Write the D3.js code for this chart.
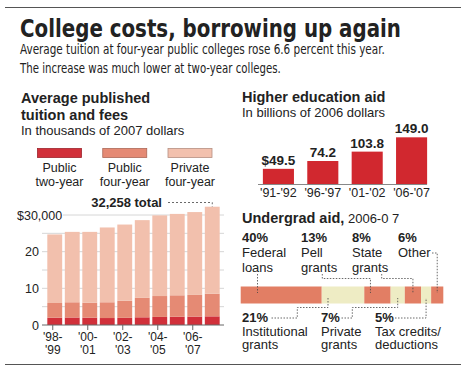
<!DOCTYPE html>
<html>
<head>
<meta charset="utf-8">
<script src="https://cdn.jsdelivr.net/npm/d3@7"></script>
<style>
  body { margin: 0; background: #fff; }
  svg { display: block; font-family: "Liberation Sans", Arial, sans-serif; }
  .cond { font-family: "DejaVu Sans Condensed", "DejaVu Sans", sans-serif; font-stretch: condensed; }
</style>
</head>
<body>
<div id="chart"></div>
<script>
// tuition and fees, thousands of 2007 dollars
var years = ["'98-'99", "'99-'00", "'00-'01", "'01-'02", "'02-'03", "'03-'04", "'04-'05", "'05-'06", "'06-'07", "'07-'08"];
var publicTwo = [2.0, 2.05, 2.0, 1.9, 1.95, 2.1, 2.2, 2.25, 2.3, 2.361];
var publicFour = [4.0, 4.15, 4.1, 4.3, 4.65, 5.3, 5.7, 5.85, 5.9, 6.185];
var privateFour = [18.7, 19.2, 19.3, 20.4, 20.8, 21.2, 22.0, 22.2, 22.6, 23.712];
var tuitionTicks = [0, 10, 20, 30];

// higher education aid, billions of 2006 dollars
var aidYears = ["'91-'92", "'96-'97", "'01-'02", "'06-'07"];
var aidValues = [49.5, 74.2, 103.8, 149.0];

// undergrad aid shares 2006-07
var aidTypes = ["Federal loans", "Institutional grants", "Pell grants", "Private grants", "State grants", "Tax credits/deductions", "Other"];
var aidShares = [40, 21, 13, 7, 8, 5, 6];

var W = 473, H = 376;
var svg = d3.select("#chart").append("svg").attr("width", W).attr("height", H);

// header rules
svg.append("line").attr("x1", 5).attr("x2", 461).attr("y1", 7.5).attr("y2", 7.5)
  .attr("stroke", "#555").attr("stroke-width", 1.2);
svg.append("line").attr("x1", 5).attr("x2", 461).attr("y1", 364.5).attr("y2", 364.5)
  .attr("stroke", "#555").attr("stroke-width", 1.2);

// squeeze a condensed headline line to the width it has in the print graphic
function headline(y, txt, size, bold, width) {
  var t = svg.append("text").attr("class", "cond")
    .attr("font-size", size).attr("font-weight", bold ? "bold" : "normal")
    .attr("fill", "#222").text(txt);
  var k = Math.min(1, width / t.node().getComputedTextLength());
  t.attr("transform", "translate(20," + y + ") scale(" + k + ",1)");
}
headline(36.5, "College costs, borrowing up again", 24.5, true, 381);
headline(54, "Average tuition at four-year public colleges rose 6.6 percent this year.", 14.5, false, 365);
headline(72.5, "The increase was much lower at two-year colleges.", 14.5, false, 261);

function label(x, y, txt, size, bold, anchor) {
  return svg.append("text").attr("x", x).attr("y", y)
    .attr("font-size", size).attr("font-weight", bold ? "bold" : "normal")
    .attr("text-anchor", anchor || "start").attr("fill", "#222").text(txt);
}

// ---------- left panel: stacked tuition bars ----------
label(21, 103, "Average published", 14.5, true);
label(21, 120, "tuition and fees", 14.5, true);
label(21, 135, "In thousands of 2007 dollars", 13, false);

var colors = ["#d1303a", "#e58a74", "#f2c0ad"];
var legendNames = [["Public", "two-year"], ["Public", "four-year"], ["Private", "four-year"]];
var legendX = d3.scalePoint().domain([0, 1, 2]).range([59.5, 190]);
legendNames.forEach(function(n, i) {
  var cx = legendX(i);
  svg.append("rect").attr("x", cx - 22).attr("y", 148.5).attr("width", 44).attr("height", 9)
    .attr("fill", colors[i]).attr("stroke", d3.color(colors[i]).darker(0.8)).attr("stroke-width", 0.8);
  label(cx, 172, n[0], 12.5, false, "middle");
  label(cx, 185.5, n[1], 12.5, false, "middle");
});

var x = d3.scaleBand().domain(years).range([46, 221]).paddingInner(0.15).paddingOuter(0.075);
var y = d3.scaleLinear().domain([0, 30]).range([325, 215]);

var rows = years.map(function(yr, i) {
  return { year: yr, two: publicTwo[i], four: publicFour[i], priv: privateFour[i] };
});
var stack = d3.stack().keys(["two", "four", "priv"])(rows);

// gridlines every 5,000
var grid = svg.append("g");
d3.range(5, 31, 5).forEach(function(v) {
  grid.append("line").attr("x1", v === 30 ? 63 : 42).attr("x2", 224)
    .attr("y1", y(v)).attr("y2", y(v)).attr("stroke", "#ccc").attr("stroke-width", 0.8);
});

svg.append("g").selectAll("g").data(stack).enter().append("g")
  .attr("fill", function(d, i) { return colors[i]; })
  .selectAll("rect").data(function(d) { return d; }).enter().append("rect")
  .attr("x", function(d) { return x(d.data.year); })
  .attr("width", x.bandwidth())
  .attr("y", function(d) { return y(d[1]); })
  .attr("height", function(d) { return y(d[0]) - y(d[1]); });

svg.append("line").attr("x1", 42).attr("x2", 224).attr("y1", y(0)).attr("y2", y(0))
  .attr("stroke", "#666").attr("stroke-width", 1);

tuitionTicks.forEach(function(v) {
  if (v === 30) label(17, y(v) + 4.5, "$30,000", 12.5, false);
  else label(39, y(v) + 4.5, v, 12.5, false, "end");
});

years.forEach(function(yr, i) {
  if (i % 2) return;
  var cx = x(yr) + x.bandwidth() / 2 - 2;
  svg.append("line").attr("x1", cx).attr("x2", cx).attr("y1", y(0)).attr("y2", y(0) + 5)
    .attr("stroke", "#666");
  var parts = yr.split("-");
  label(cx, 341, parts[0] + "-", 12, false, "middle");
  label(cx, 354, parts[1], 12, false, "middle");
});

var last = rows[rows.length - 1];
var lastTop = last.two + last.four + last.priv;
var lx = x(last.year) + x.bandwidth() / 2;
label(162, 206.5, d3.format(",")(Math.round(lastTop * 1000)) + " total", 13, true, "end");
svg.append("path")
  .attr("d", "M168," + 202.5 + "H" + lx + "V" + y(lastTop))
  .attr("fill", "none").attr("stroke", "#444").attr("stroke-width", 0.8).attr("stroke-dasharray", "2,2");

// ---------- right panel: higher education aid ----------
label(242, 102, "Higher education aid", 14.5, true);
label(242, 117, "In billions of 2006 dollars", 13, false);

var ax = d3.scaleBand().domain(aidYears).range([254, 436]).paddingInner(0.3).paddingOuter(0.2);
var ay = d3.scaleLinear().domain([0, 150]).range([184.5, 137]);

svg.append("g").selectAll("rect").data(aidValues).enter().append("rect")
  .attr("x", function(d, i) { return ax(aidYears[i]); })
  .attr("width", ax.bandwidth())
  .attr("y", function(d) { return ay(d); })
  .attr("height", function(d) { return ay(0) - ay(d); })
  .attr("fill", "#d1282f");

svg.append("line").attr("x1", 258).attr("x2", 427).attr("y1", ay(0)).attr("y2", ay(0))
  .attr("stroke", "#888").attr("stroke-width", 1);

aidValues.forEach(function(v, i) {
  var cx = ax(aidYears[i]) + ax.bandwidth() / 2;
  label(cx, ay(v) - 4, (i === 0 ? "$" : "") + d3.format(".1f")(v), 13.5, true, "middle");
  label(cx, 197, aidYears[i], 12.5, false, "middle");
});

// ---------- right panel: undergrad aid shares ----------
var head = svg.append("text").attr("x", 242).attr("y", 222.5).attr("fill", "#222");
head.append("tspan").attr("font-size", 14.5).attr("font-weight", "bold").text("Undergrad aid,");
head.append("tspan").attr("font-size", 13).text(" 2006-0 7");

var sx = d3.scaleLinear().domain([0, d3.sum(aidShares)]).range([240.7, 443.3]);
var cum = 0;
var segs = aidShares.map(function(s, i) {
  var seg = { name: aidTypes[i], share: s, x0: sx(cum), x1: sx(cum + s) };
  cum += s;
  return seg;
});
var barY0 = 286.5, barY1 = 303.5;
svg.append("g").selectAll("rect").data(segs).enter().append("rect")
  .attr("x", function(d) { return d.x0; })
  .attr("width", function(d) { return d.x1 - d.x0; })
  .attr("y", barY0).attr("height", barY1 - barY0)
  .attr("fill", function(d, i) { return i % 2 ? "#eeecc4" : "#e27e64"; });

function mid(i) { return (segs[i].x0 + segs[i].x1) / 2; }
function dots(d) {
  svg.append("path").attr("d", d).attr("fill", "none")
    .attr("stroke", "#444").attr("stroke-width", 0.8).attr("stroke-dasharray", "1.5,1.5");
}

// top labels: Federal loans, Pell, State, Other
var topLabels = [
  { i: 0, x: 242, pct: "40%", l1: "Federal", l2: "loans" },
  { i: 2, x: 301, pct: "13%", l1: "Pell", l2: "grants" },
  { i: 4, x: 352, pct: "8%", l1: "State", l2: "grants" },
  { i: 6, x: 398, pct: "6%", l1: "Other", l2: "" }
];
topLabels.forEach(function(t) {
  label(t.x, 241.5, t.pct, 13, true);
  label(t.x, 256.5, t.l1, 13, false);
  if (t.l2) label(t.x, 271.5, t.l2, 13, false);
});
dots("M257.5,274V293");
dots("M322.3,274V278.5H" + (mid(2) - 7) + "V293");
dots("M381.7,274V278.5H" + mid(4) + "V293");
dots("M432,253H" + mid(6) + "V293");

// bottom labels: Institutional, Private, Tax credits
var botLabels = [
  { x: 242, pct: "21%", l1: "Institutional", l2: "grants" },
  { x: 321, pct: "7%", l1: "Private", l2: "grants" },
  { x: 375, pct: "5%", l1: "Tax credits/", l2: "deductions" }
];
botLabels.forEach(function(t) {
  label(t.x, 322, t.pct, 13, true);
  label(t.x, 335.5, t.l1, 13, false);
  label(t.x, 349, t.l2, 13, false);
});
dots("M271.5,318H297.3V307.5H" + (mid(1) - 15) + "V298");
dots("M341.5,318H352.3V307.5H" + mid(3) + "V298");
dots("M395,318H" + mid(5) + "V298");
</script>
</body>
</html>
